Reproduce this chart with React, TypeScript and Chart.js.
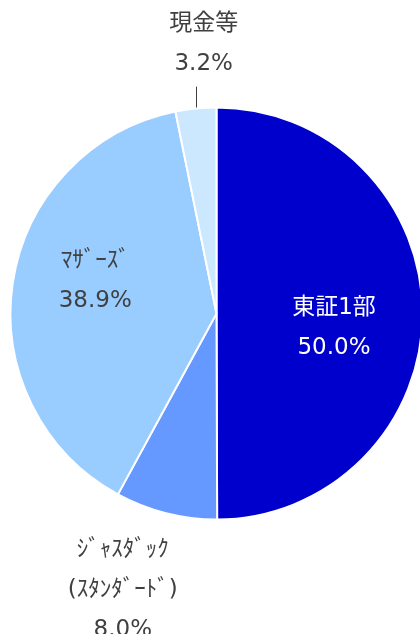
import React, { useEffect, useRef } from "react";
import { Chart, registerables } from "chart.js";

Chart.register(...registerables);

// ---- data ----
const categories = ["東証1部", "ｼﾞｬｽﾀﾞｯｸ(ｽﾀﾝﾀﾞｰﾄﾞ)", "ﾏｻﾞｰｽﾞ", "現金等"];
const categoryLines = [["東証1部"], ["ｼﾞｬｽﾀﾞｯｸ", "(ｽﾀﾝﾀﾞｰﾄﾞ)"], ["ﾏｻﾞｰｽﾞ"], ["現金等"]];
const values = [50.0, 8.0, 38.9, 3.2];
const valueLabels = ["50.0%", "8.0%", "38.9%", "3.2%"];

// ---- styles ----
const colors = ["#0000CC", "#6699FF", "#99CCFF", "#CCE8FF"];
const textColors = ["#FFFFFF", "#404040", "#404040", "#404040"];
const FONT = '23px "DejaVu Sans", "Noto Sans CJK JP", sans-serif';
const LINE_H = 40;
const CANVAS_W = 440; // wider than the 420px view so the pie's right edge is clipped like the reference
// placement relative to arc: f = fraction of radius along mid-angle, dx/dy extra offset of block center
const placement = [
  { f: 0.58, dx: -2, dy: 15, leader: false },
  { f: 1.3, dx: -28, dy: 17, leader: false },
  { f: 0.6, dx: 1, dy: -14, leader: false },
  { f: 1.3, dx: 14, dy: -3, leader: true },
];

const labelPlugin = {
  id: "sliceLabels",
  afterDraw(chart: any) {
    const ctx = chart.ctx as CanvasRenderingContext2D;
    const meta = chart.getDatasetMeta(0);
    ctx.save();
    ctx.font = FONT;
    ctx.textAlign = "center";
    ctx.textBaseline = "middle";
    meta.data.forEach((arc: any, i: number) => {
      const { x, y, startAngle, endAngle, outerRadius } = arc.getProps(
        ["x", "y", "startAngle", "endAngle", "outerRadius"],
        true
      );
      const mid = (startAngle + endAngle) / 2;
      const p = placement[i];
      const cx = x + Math.cos(mid) * outerRadius * p.f + p.dx;
      const cy = y + Math.sin(mid) * outerRadius * p.f + p.dy;
      const lines = [...categoryLines[i], valueLabels[i]];
      const top = cy - ((lines.length - 1) * LINE_H) / 2;
      ctx.fillStyle = textColors[i];
      lines.forEach((t, k) => ctx.fillText(t, cx, top + k * LINE_H));
      if (p.leader) {
        ctx.strokeStyle = "#404040";
        ctx.lineWidth = 1;
        ctx.beginPath();
        const r0 = outerRadius + 1;
        const r1 = outerRadius + 22;
        const lx = Math.round(x + Math.cos(mid) * r0) + 0.5;
        ctx.moveTo(lx, y + Math.sin(mid) * r0);
        ctx.lineTo(lx, y + Math.sin(mid) * r1);
        ctx.stroke();
      }
    });
    ctx.restore();
  },
};

export default function App() {
  const ref = useRef<HTMLCanvasElement | null>(null);
  useEffect(() => {
    document.body.style.margin = "0";
    if (!ref.current) return;
    const chart = new Chart(ref.current, {
      type: "pie",
      data: {
        labels: categories,
        datasets: [
          {
            data: values,
            backgroundColor: colors,
            borderColor: "#FFFFFF",
            borderWidth: 2,
            hoverOffset: 0,
            offset: 0,
          },
        ],
      },
      options: {
        responsive: false,
        animation: false,
        layout: { padding: { left: 9.5, right: 16.5, top: 106.5, bottom: 113.5 } },
        plugins: {
          legend: { display: false },
          tooltip: { enabled: false },
        },
      },
      plugins: [labelPlugin],
    });
    return () => chart.destroy();
  }, []);
  return (
    <div style={{ width: 420, height: 634, overflow: "hidden", background: "#fff" }}>
      <canvas ref={ref} width={CANVAS_W} height={634} style={{ display: "block" }} />
    </div>
  );
}
